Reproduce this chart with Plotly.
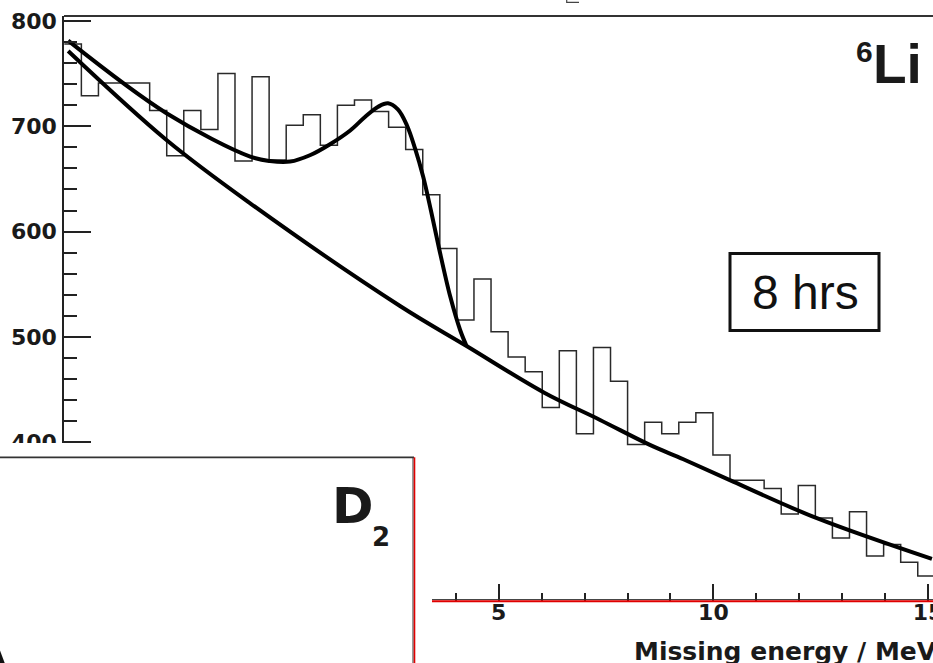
import plotly.graph_objects as go

# Canvas and plot-area margins (pixels)
W, H = 933, 663
ML, MR, MT, MB = 64, 0, 16, 62

# 6Li missing-energy spectrum (counts per bin)
BIN_START = -5.12
BIN_WIDTH = 0.3976
counts = [778, 729, 741, 741, 741, 715, 672, 715, 697, 750,
          667, 747, 668, 701, 711, 682, 720, 725, 714, 699,
          678, 635, 584, 516, 555, 505, 481, 467, 433, 487,
          408, 490, 458, 398, 419, 408, 419, 428, 388, 364,
          364, 356, 332, 359, 328, 309, 334, 292, 303, 286, 273]

# Background fit
bg_x = [-5.03, -2.74, -0.79, 2.70, 4.25, 6.06, 7.36, 8.52, 9.30, 10.46, 12.41, 15.09]
bg_y = [771.5, 687.0, 626.9, 529.4, 491.4, 447.1, 421.2, 397.5, 383.9, 362.6, 327.9, 289.2]

# Background + peak fit
tot_x = [-5.03, -2.74, -0.79, -0.33, 0.14, 0.60, 1.07, 1.54, 1.89, 2.19,
         2.42, 2.65, 2.86, 3.05, 3.24, 3.42, 3.61, 3.87, 4.10, 4.25]
tot_y = [781.3, 712.4, 671.2, 667.0, 666.5, 672.5, 683.0, 696.0, 709.0, 718.5,
         721.8, 716.0, 701.0, 679.0, 652.0, 620.0, 584.0, 538.3, 506.6, 491.4]

X_RANGE = [-5.127, 15.115]
Y_RANGE = [249.3, 804.7]

X_TITLE = "Missing energy / MeV"

PW, PH = W - ML - MR, H - MT - MB


def px(x):
    return (x - ML) / PW


def py(y):
    return (H - MB - y) / PH


edges = [BIN_START + i * BIN_WIDTH for i in range(len(counts) + 1)]

fig = go.Figure()
fig.add_trace(go.Scatter(
    x=edges, y=counts + [counts[-1]], mode="lines",
    line=dict(shape="hv", color="#2a2a2a", width=1.5),
    hoverinfo="skip", showlegend=False))
fig.add_trace(go.Scatter(
    x=bg_x, y=bg_y, mode="lines",
    line=dict(shape="spline", smoothing=1.0, color="#000000", width=4),
    showlegend=False))
fig.add_trace(go.Scatter(
    x=tot_x, y=tot_y, mode="lines",
    line=dict(shape="spline", smoothing=1.0, color="#000000", width=4),
    showlegend=False))

tickfont = dict(family="DejaVu Sans", size=22, color="#1a1a1a", weight="bold")

fig.update_xaxes(
    range=X_RANGE, showgrid=False, zeroline=False, showline=False,
    ticks="inside", ticklen=17, tickwidth=1.5, tickcolor="#222",
    tick0=0, dtick=5, tickfont=tickfont, automargin=False,
    ticklabelstandoff=-4, ticklabeloverflow="allow",
    minor=dict(ticks="inside", ticklen=8, tickwidth=1.5, tickcolor="#222", dtick=1, showgrid=False),
)
fig.update_yaxes(
    range=Y_RANGE, showgrid=False, zeroline=False, showline=True,
    linecolor="#222", linewidth=1.5,
    ticks="inside", ticklen=27, tickwidth=1.5, tickcolor="#222",
    tick0=0, dtick=100, tickfont=tickfont, automargin=False,
    ticklabelstandoff=1,
    minor=dict(ticks="inside", ticklen=13, tickwidth=1.5, tickcolor="#222", dtick=20, showgrid=False),
)

shapes = []
# top frame
shapes.append(dict(type="line", xref="paper", yref="paper",
                   x0=px(ML), x1=px(W + 5), y0=py(16), y1=py(16),
                   line=dict(color="#333", width=2)))
# white cover for the overlapping lower-left panel
shapes.append(dict(type="rect", xref="paper", yref="paper",
                   x0=px(-10), x1=px(432), y0=py(443), y1=py(H + 10),
                   fillcolor="white", line=dict(width=0), layer="above"))
# panel border (top and right)
shapes.append(dict(type="line", xref="paper", yref="paper",
                   x0=px(-10), x1=px(414), y0=py(457.3), y1=py(457.3),
                   line=dict(color="#333", width=1.8), layer="above"))
shapes.append(dict(type="line", xref="paper", yref="paper",
                   x0=px(413), x1=px(413), y0=py(457.3), y1=py(H + 10),
                   line=dict(color="#333", width=1), layer="above"))
shapes.append(dict(type="line", xref="paper", yref="paper",
                   x0=px(414.5), x1=px(414.5), y0=py(457.3), y1=py(H + 10),
                   line=dict(color="#e00000", width=1.6), layer="above"))
# red x-axis line
shapes.append(dict(type="line", xref="paper", yref="paper",
                   x0=px(432), x1=px(W + 5), y0=py(599.6), y1=py(599.6),
                   line=dict(color="#333", width=1), layer="above"))
shapes.append(dict(type="line", xref="paper", yref="paper",
                   x0=px(432), x1=px(W + 5), y0=py(601.2), y1=py(601.2),
                   line=dict(color="#e00000", width=2), layer="above"))
# text fragment at top edge
shapes.append(dict(type="path", xref="paper", yref="paper",
                   path=f"M {px(566.7)} {py(-2)} L {px(566.7)} {py(2.3)} L {px(579)} {py(2.3)}",
                   line=dict(color="#444", width=1.2)))
# "8 hrs" box
shapes.append(dict(type="rect", xref="paper", yref="paper",
                   x0=px(730), x1=px(879), y0=py(253.5), y1=py(330.5),
                   fillcolor="white", line=dict(color="#111", width=3), layer="above"))

annotations = [
    dict(text="8 hrs", x=px(805), y=py(292), xref="paper", yref="paper",
         showarrow=False, xanchor="center", yanchor="middle",
         font=dict(family="Liberation Sans", size=48, color="#111")),
    dict(text="Li", x=px(871), y=py(64), xref="paper", yref="paper",
         showarrow=False, xanchor="left", yanchor="middle",
         font=dict(family="Liberation Sans", size=55, color="#1a1a1a", weight="bold")),
    dict(text="6", x=px(864), y=py(51), xref="paper", yref="paper",
         showarrow=False, xanchor="center", yanchor="middle",
         font=dict(family="Liberation Sans", size=30, color="#1a1a1a", weight="bold")),
    dict(text="D", x=px(352.5), y=py(505.5), xref="paper", yref="paper",
         showarrow=False, xanchor="center", yanchor="middle",
         font=dict(family="DejaVu Sans", size=50, color="#1a1a1a", weight="bold")),
    dict(text="2", x=px(380.5), y=py(537), xref="paper", yref="paper",
         showarrow=False, xanchor="center", yanchor="middle",
         font=dict(family="DejaVu Sans", size=26, color="#1a1a1a", weight="bold")),
    dict(text="A", x=px(-8), y=py(664), xref="paper", yref="paper",
         showarrow=False, xanchor="center", yanchor="middle",
         font=dict(family="DejaVu Sans", size=50, color="#111", weight="bold")),
    dict(text=X_TITLE, x=px(632), y=py(651), xref="paper", yref="paper",
         showarrow=False, xanchor="left", yanchor="middle",
         font=dict(family="DejaVu Sans", size=25, color="#1a1a1a", weight="bold")),
]

fig.update_layout(
    width=W, height=H,
    margin=dict(l=ML, r=MR, t=MT, b=MB, pad=0),
    paper_bgcolor="white", plot_bgcolor="white",
    shapes=shapes, annotations=annotations,
    showlegend=False,
)

fig.write_html("out.html")
